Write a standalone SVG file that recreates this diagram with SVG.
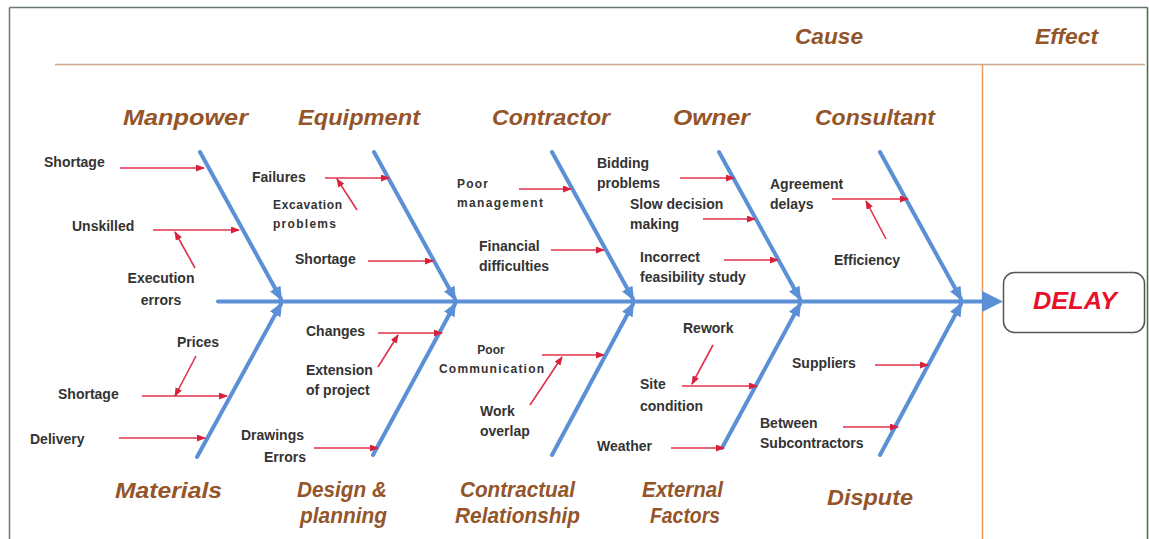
<svg xmlns="http://www.w3.org/2000/svg" width="1149" height="539" viewBox="0 0 1149 539">
<style>
.cat{font-family:"Liberation Sans",Arial,sans-serif;font-weight:bold;font-style:italic;font-size:22px;fill:#94552a}
.lbl{font-family:"Liberation Sans",Arial,sans-serif;font-weight:bold;font-size:14px;fill:#333}
.sm{font-family:"Liberation Sans",Arial,sans-serif;font-weight:bold;font-size:12px;fill:#333}
.bone{stroke:#5b8fd6;stroke-width:4;fill:none;stroke-linecap:round}
.sub{stroke:#e0304c;stroke-width:1.6;fill:none}
</style>
<defs>
<marker id="ra" markerUnits="userSpaceOnUse" markerWidth="9" markerHeight="7" refX="8" refY="3.5" orient="auto">
<path d="M0,0 L9,3.5 L0,7 z" fill="#d8203c"/>
</marker>
<marker id="ba" markerUnits="userSpaceOnUse" markerWidth="14" markerHeight="12" refX="12" refY="6" orient="auto">
<path d="M0,0 L14,6 L0,12 z" fill="#5b8fd6"/>
</marker>
</defs>
<rect width="1149" height="539" fill="#fff"/>
<g id="frame">
<line x1="9.5" y1="7.5" x2="1147.5" y2="7.5" stroke="#6a786a" stroke-width="1.5"/>
<line x1="9.5" y1="7.5" x2="9.5" y2="539" stroke="#6a786a" stroke-width="1.5"/>
<line x1="1147.5" y1="7.5" x2="1147.5" y2="539" stroke="#4a6a4a" stroke-width="1.5"/>
<line x1="55" y1="64.5" x2="1145" y2="64.5" stroke="#d0aa90" stroke-width="1.5"/>
<line x1="982.5" y1="64.5" x2="982.5" y2="539" stroke="#e89a5a" stroke-width="1.5"/>
</g>
<g id="headers">
<text class="cat" x="795" y="44" textLength="68" lengthAdjust="spacingAndGlyphs">Cause</text>
<text class="cat" x="1035" y="44" textLength="63" lengthAdjust="spacingAndGlyphs">Effect</text>
</g>
<g id="connectors">
<line class="bone" x1="218" y1="301.5" x2="983" y2="301.5"/>
<polygon points="982,291 1003,301.5 982,312" fill="#5b8fd6"/>
<line class="bone" x1="200" y1="152" x2="281" y2="299" marker-end="url(#ba)"/>
<line class="bone" x1="374" y1="152" x2="455" y2="299" marker-end="url(#ba)"/>
<line class="bone" x1="552" y1="152" x2="633" y2="299" marker-end="url(#ba)"/>
<line class="bone" x1="719" y1="152" x2="800" y2="299" marker-end="url(#ba)"/>
<line class="bone" x1="880" y1="152" x2="961" y2="299" marker-end="url(#ba)"/>
<line class="bone" x1="197" y1="457" x2="281" y2="304" marker-end="url(#ba)"/>
<line class="bone" x1="373" y1="455" x2="455" y2="304" marker-end="url(#ba)"/>
<line class="bone" x1="552" y1="455" x2="633" y2="304" marker-end="url(#ba)"/>
<line class="bone" x1="722" y1="448" x2="800" y2="304" marker-end="url(#ba)"/>
<line class="bone" x1="880" y1="455" x2="961" y2="304" marker-end="url(#ba)"/>
<line class="sub" x1="120" y1="168" x2="204" y2="168" marker-end="url(#ra)"/>
<line class="sub" x1="153" y1="230" x2="239" y2="230" marker-end="url(#ra)"/>
<line class="sub" x1="195" y1="268" x2="175" y2="232" marker-end="url(#ra)"/>
<line class="sub" x1="325" y1="178" x2="389" y2="178" marker-end="url(#ra)"/>
<line class="sub" x1="357" y1="210" x2="337" y2="179" marker-end="url(#ra)"/>
<line class="sub" x1="368" y1="261" x2="433" y2="261" marker-end="url(#ra)"/>
<line class="sub" x1="519" y1="189" x2="571" y2="189" marker-end="url(#ra)"/>
<line class="sub" x1="551" y1="250" x2="604" y2="250" marker-end="url(#ra)"/>
<line class="sub" x1="680" y1="178" x2="734" y2="178" marker-end="url(#ra)"/>
<line class="sub" x1="703" y1="219" x2="755" y2="219" marker-end="url(#ra)"/>
<line class="sub" x1="724" y1="260" x2="778" y2="260" marker-end="url(#ra)"/>
<line class="sub" x1="832" y1="199" x2="908" y2="199" marker-end="url(#ra)"/>
<line class="sub" x1="886" y1="239" x2="866" y2="201" marker-end="url(#ra)"/>
<line class="sub" x1="196" y1="356" x2="175" y2="396" marker-end="url(#ra)"/>
<line class="sub" x1="142" y1="396" x2="227" y2="396" marker-end="url(#ra)"/>
<line class="sub" x1="119" y1="438" x2="205" y2="438" marker-end="url(#ra)"/>
<line class="sub" x1="378" y1="333" x2="442" y2="333" marker-end="url(#ra)"/>
<line class="sub" x1="378" y1="367" x2="398" y2="335" marker-end="url(#ra)"/>
<line class="sub" x1="314" y1="448" x2="378" y2="448" marker-end="url(#ra)"/>
<line class="sub" x1="542" y1="355" x2="604" y2="355" marker-end="url(#ra)"/>
<line class="sub" x1="530" y1="405" x2="562" y2="357" marker-end="url(#ra)"/>
<line class="sub" x1="713" y1="345" x2="692" y2="384" marker-end="url(#ra)"/>
<line class="sub" x1="682" y1="386" x2="757" y2="386" marker-end="url(#ra)"/>
<line class="sub" x1="671" y1="448" x2="724" y2="448" marker-end="url(#ra)"/>
<line class="sub" x1="875" y1="365" x2="928" y2="365" marker-end="url(#ra)"/>
<line class="sub" x1="843" y1="427" x2="898" y2="427" marker-end="url(#ra)"/>
</g>
<g id="manpower">
<text class="cat" x="123" y="125" textLength="125" lengthAdjust="spacingAndGlyphs">Manpower</text>
<text class="lbl" x="44" y="167">Shortage</text>
<text class="lbl" x="72" y="231">Unskilled</text>
<text class="lbl" x="161" y="283" text-anchor="middle">Execution</text>
<text class="lbl" x="161" y="305" text-anchor="middle">errors</text>
</g>
<g id="equipment">
<text class="cat" x="298" y="125" textLength="122" lengthAdjust="spacingAndGlyphs">Equipment</text>
<text class="lbl" x="252" y="182">Failures</text>
<text class="sm" x="273" y="209" textLength="69" lengthAdjust="spacing">Excavation</text>
<text class="sm" x="273" y="228" textLength="63" lengthAdjust="spacing">problems</text>
<text class="lbl" x="295" y="264">Shortage</text>
</g>
<g id="contractor">
<text class="cat" x="492" y="125" textLength="118" lengthAdjust="spacingAndGlyphs">Contractor</text>
<text class="sm" x="457" y="188" textLength="31" lengthAdjust="spacing">Poor</text>
<text class="sm" x="457" y="207" textLength="86" lengthAdjust="spacing">management</text>
<text class="lbl" x="479" y="251">Financial</text>
<text class="lbl" x="479" y="271">difficulties</text>
</g>
<g id="owner">
<text class="cat" x="673" y="125" textLength="77" lengthAdjust="spacingAndGlyphs">Owner</text>
<text class="lbl" x="597" y="168">Bidding</text>
<text class="lbl" x="597" y="188">problems</text>
<text class="lbl" x="630" y="209">Slow decision</text>
<text class="lbl" x="630" y="229">making</text>
<text class="lbl" x="640" y="262">Incorrect</text>
<text class="lbl" x="640" y="282">feasibility study</text>
</g>
<g id="consultant">
<text class="cat" x="815" y="125" textLength="120" lengthAdjust="spacingAndGlyphs">Consultant</text>
<text class="lbl" x="770" y="189">Agreement</text>
<text class="lbl" x="770" y="209">delays</text>
<text class="lbl" x="834" y="265">Efficiency</text>
</g>
<g id="materials">
<text class="cat" x="115" y="498" textLength="107" lengthAdjust="spacingAndGlyphs">Materials</text>
<text class="lbl" x="177" y="347">Prices</text>
<text class="lbl" x="58" y="399">Shortage</text>
<text class="lbl" x="30" y="444">Delivery</text>
</g>
<g id="design">
<text class="cat" x="297" y="497" textLength="90" lengthAdjust="spacingAndGlyphs">Design &amp;</text>
<text class="cat" x="300" y="523" textLength="87" lengthAdjust="spacingAndGlyphs">planning</text>
<text class="lbl" x="306" y="336">Changes</text>
<text class="lbl" x="306" y="375">Extension</text>
<text class="lbl" x="306" y="395">of project</text>
<text class="lbl" x="304" y="440" text-anchor="end">Drawings</text>
<text class="lbl" x="306" y="462" text-anchor="end">Errors</text>
</g>
<g id="contractual">
<text class="cat" x="460" y="497" textLength="115" lengthAdjust="spacingAndGlyphs">Contractual</text>
<text class="cat" x="455" y="523" textLength="125" lengthAdjust="spacingAndGlyphs">Relationship</text>
<text class="sm" x="491" y="354" text-anchor="middle">Poor</text>
<text class="sm" x="439" y="373" textLength="105" lengthAdjust="spacing">Communication</text>
<text class="lbl" x="480" y="416">Work</text>
<text class="lbl" x="480" y="436">overlap</text>
</g>
<g id="external">
<text class="cat" x="642" y="497" textLength="81" lengthAdjust="spacingAndGlyphs">External</text>
<text class="cat" x="650" y="523" textLength="70" lengthAdjust="spacingAndGlyphs">Factors</text>
<text class="lbl" x="683" y="333">Rework</text>
<text class="lbl" x="640" y="389">Site</text>
<text class="lbl" x="640" y="411">condition</text>
<text class="lbl" x="597" y="451">Weather</text>
</g>
<g id="dispute">
<text class="cat" x="827" y="505" textLength="86" lengthAdjust="spacingAndGlyphs">Dispute</text>
<text class="lbl" x="792" y="368">Suppliers</text>
<text class="lbl" x="760" y="428">Between</text>
<text class="lbl" x="760" y="448">Subcontractors</text>
</g>
<g id="delay">
<rect x="1003.5" y="272.5" width="141" height="60" rx="11" fill="#fff" stroke="#555" stroke-width="1.5"/>
<text x="1075" y="309" text-anchor="middle" font-family="Liberation Sans, Arial, sans-serif" font-weight="bold" font-style="italic" font-size="24" fill="#e8102a" textLength="84" lengthAdjust="spacingAndGlyphs">DELAY</text>
</g>
</svg>
